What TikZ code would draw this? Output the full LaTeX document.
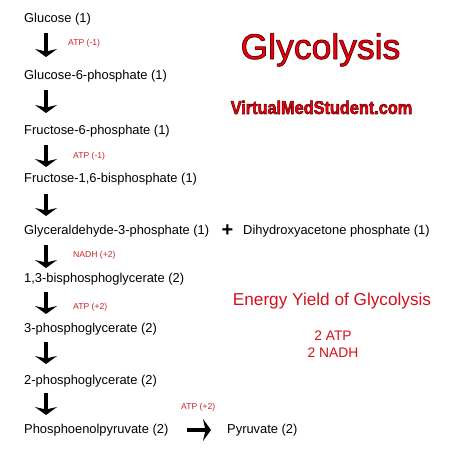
\documentclass[tikz,border=0pt]{standalone}
\usepackage{fontspec}
\setmainfont{Liberation Sans}
\usetikzlibrary{arrows.meta}
\definecolor{labred}{HTML}{D2232A}
\definecolor{titred}{HTML}{EE0010}
\definecolor{yieldred}{HTML}{D3111C}
\newcommand{\outlinedtext}[2]{%
  \special{pdf:literal direct q 2 Tr #1 w 1 j 0.4 0 0 RG}#2\special{pdf:literal direct Q 0 Tr}}
\begin{document}
\begin{tikzpicture}[x=1pt,y=1pt,
  comp/.style={anchor=west,font=\fontsize{12.9}{15}\selectfont,inner sep=0pt},
  lab/.style={anchor=west,font=\fontsize{8.6}{10}\selectfont,text=labred,inner sep=0pt},
  bigarrow/.style={line width=4pt,-{Stealth[width=22pt,length=8pt,inset=2.5pt]}},
  titlefont/.style={font=\fontsize{35.5}{40}\selectfont,inner sep=0pt,anchor=base,text=titred},
  sitefont/.style={font=\fontsize{18.5}{20}\bfseries,inner sep=0pt,anchor=base,xscale=0.88,transform shape,text=titred},
  yield/.style={text=yieldred,inner sep=0pt,anchor=base}
]
\useasboundingbox[fill=white] (0,0) rectangle (474,-474);

% pathway compounds
\node[comp] (glc) at (24,-19.5) {Glucose (1)};
\node[comp] (g6p) at (24,-76) {Glucose-6-phosphate (1)};
\node[comp] (f6p) at (24,-131) {Fructose-6-phosphate (1)};
\node[comp] (f16) at (24,-179) {Fructose-1,6-bisphosphate (1)};
\node[comp] (gap) at (24,-231) {Glyceraldehyde-3-phosphate (1)};
\node[font=\fontsize{20}{20}\bfseries,inner sep=0pt] (plus) at (227.5,-231) {+};
\node[comp] (dhap) at (243,-231) {Dihydroxyacetone phosphate (1)};
\node[comp] (bpg) at (24,-279) {1,3-bisphosphoglycerate (2)};
\node[comp] (pgc3) at (24,-329) {3-phosphoglycerate (2)};
\node[comp] (pgc2) at (24,-381) {2-phosphoglycerate (2)};
\node[comp] (pep) at (24,-430) {Phosphoenolpyruvate (2)};
\node[comp] (pyr) at (227,-430) {Pyruvate (2)};

% arrow end points
\coordinate (a1s) at (46,-33);  \coordinate (a1e) at (46,-57);
\coordinate (a2s) at (46,-90);  \coordinate (a2e) at (46,-113);
\coordinate (a3s) at (46,-145); \coordinate (a3e) at (46,-167);
\coordinate (a4s) at (46,-194); \coordinate (a4e) at (46,-216);
\coordinate (a5s) at (46,-245); \coordinate (a5e) at (46,-268);
\coordinate (a6s) at (46,-292); \coordinate (a6e) at (46,-314);
\coordinate (a7s) at (46,-342); \coordinate (a7e) at (46,-364);
\coordinate (a8s) at (46,-393); \coordinate (a8e) at (46,-415);
\coordinate (a9s) at (187,-430); \coordinate (a9e) at (211,-430);

\foreach \i in {1,...,9} \draw[bigarrow] (a\i s) -- (a\i e);

% energy labels
\node[lab] (atpA) at (68,-43.5) {ATP (-1)};
\node[lab] (atpB) at (73,-156) {ATP (-1)};
\node[lab] (nadhA) at (73,-255) {NADH (+2)};
\node[lab] (atpC) at (73,-307) {ATP (+2)};
\node[lab] (atpD) at (181,-407) {ATP (+2)};

% title and site with outline
\node[titlefont] (title) at (320.5,-59) {\outlinedtext{0.8}{Glycolysis}};
\node[sitefont] (site) at (321.5,-114) {\outlinedtext{0.6}{VirtualMedStudent.com}};

% energy yield
\node[yield,font=\fontsize{17.2}{20}\selectfont] (ey) at (332,-305) {Energy Yield of Glycolysis};
\node[yield,font=\fontsize{13.8}{16}\selectfont] (ey1) at (333,-340) {2 ATP};
\node[yield,font=\fontsize{13.8}{16}\selectfont] (ey2) at (333,-357) {2 NADH};
\end{tikzpicture}
\end{document}
